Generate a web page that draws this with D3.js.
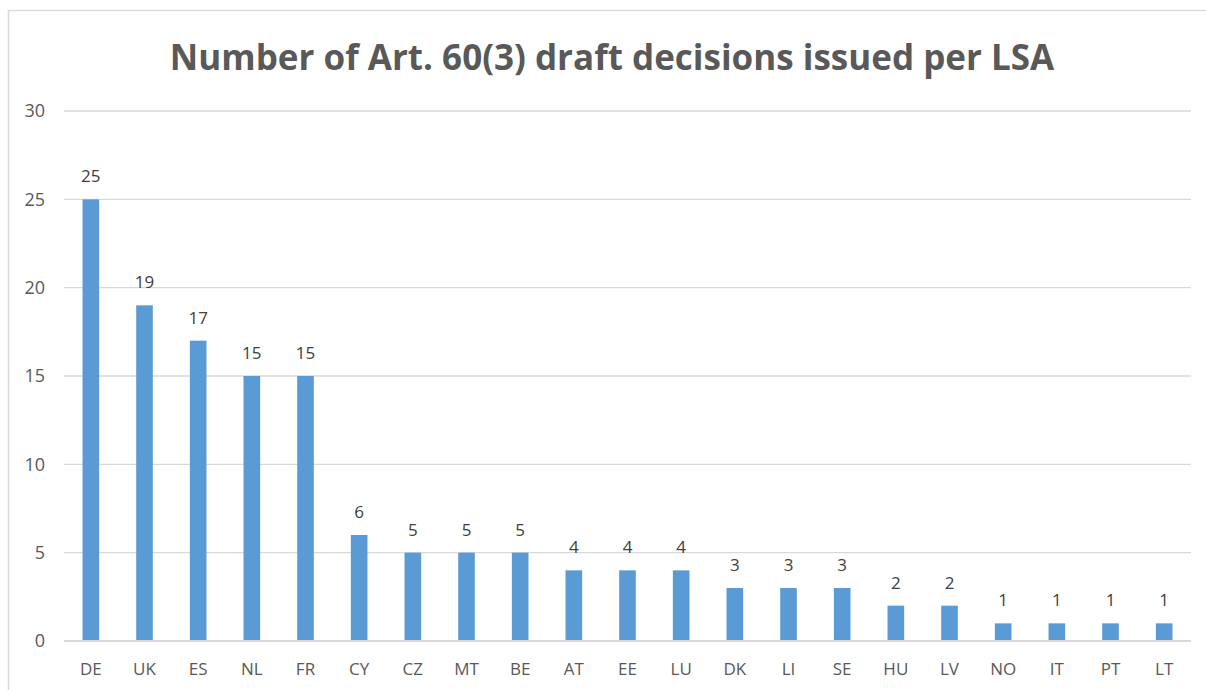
<!DOCTYPE html>
<meta charset="utf-8">
<script src="https://d3js.org/d3.v7.min.js"></script>
<style>
  body { margin: 0; background: #fff; }
</style>
<div id="chart"></div>
<script>
    // data
    const countries = ["DE", "UK", "ES", "NL", "FR", "CY", "CZ", "MT", "BE", "AT", "EE",
        "LU", "DK", "LI", "SE", "HU", "LV", "NO", "IT", "PT", "LT"];
    const decisions = [25, 19, 17, 15, 15, 6, 5, 5, 5, 4, 4, 4, 3, 3, 3, 2, 2, 1, 1, 1, 1];
    const yTicks = [0, 5, 10, 15, 20, 25, 30];
    const title = "Number of Art. 60(3) draft decisions issued per LSA";

    const W = 1206, H = 690;
    const margin = { top: 111, right: 15, bottom: 49, left: 64 };
    const width = W - margin.left - margin.right,
        height = H - margin.top - margin.bottom;

    const svg = d3.select("#chart").append("svg")
        .attr("width", W).attr("height", H)
        .style("font-family", "'Open Sans', sans-serif");

    // chart border
    svg.append("rect")
        .attr("x", 8.5).attr("y", 10.5)
        .attr("width", W).attr("height", H)
        .attr("fill", "none").attr("stroke", "#d9d9d9").attr("stroke-width", 1.5);

    svg.append("text")
        .attr("x", 612).attr("y", 70)
        .attr("text-anchor", "middle")
        .style("font-size", "35px").style("font-weight", "bold")
        .style("fill", "#595959")
        .text(title);

    const g = svg.append("g").attr("transform", `translate(${margin.left},${margin.top})`);

    const x = d3.scaleBand().domain(countries).range([0, width]).paddingInner(0.69).paddingOuter(0.345);
    const y = d3.scaleLinear().domain([0, 30]).range([height, 0]);

    // gridlines
    g.selectAll(".grid").data(yTicks).join("line")
        .attr("x1", 0).attr("x2", width)
        .attr("y1", d => y(d)).attr("y2", d => y(d))
        .attr("stroke", "#d9d9d9").attr("stroke-width", d => d === 0 ? 2 : 1.3);

    // y tick labels
    g.selectAll(".ylab").data(yTicks).join("text")
        .attr("x", -19).attr("y", d => y(d)).attr("dy", "0.35em")
        .attr("text-anchor", "end")
        .style("font-size", "18px").style("fill", "#595959")
        .text(d => d);

    // bars
    g.selectAll(".bar").data(decisions).join("rect")
        .attr("x", (d, i) => x(countries[i]))
        .attr("width", x.bandwidth())
        .attr("y", d => y(d))
        .attr("height", d => y(0) - y(d) - 1)
        .attr("fill", "#5b9bd5");

    // data labels
    g.selectAll(".val").data(decisions).join("text")
        .attr("x", (d, i) => x(countries[i]) + x.bandwidth() / 2)
        .attr("y", d => y(d) - 17)
        .attr("text-anchor", "middle")
        .style("font-size", "17px").style("fill", "#404040")
        .text(d => d);

    // x labels
    g.selectAll(".xlab").data(countries).join("text")
        .attr("x", d => x(d) + x.bandwidth() / 2)
        .attr("y", height + 34)
        .attr("text-anchor", "middle")
        .style("font-size", "17px").style("fill", "#595959")
        .text(d => d);
</script>
